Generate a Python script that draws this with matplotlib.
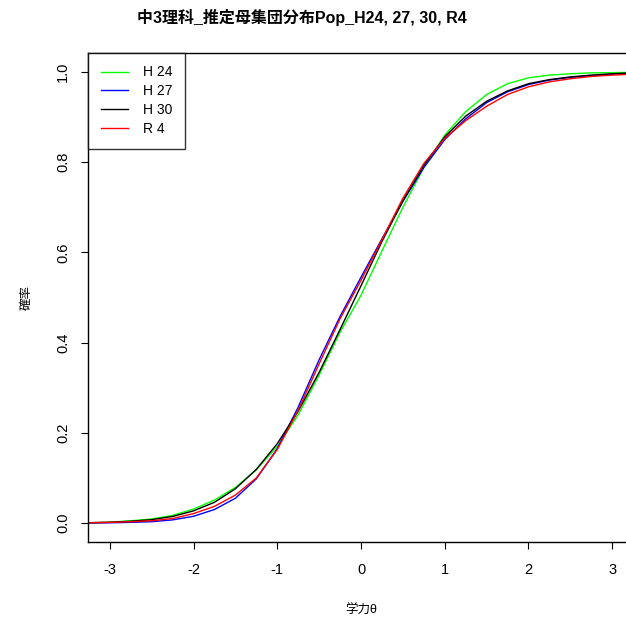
import matplotlib
matplotlib.use("Agg")
import matplotlib.pyplot as plt

# ability grid (theta) and estimated population CDFs
theta = [-3.25, -3.0, -2.75, -2.5, -2.25, -2.0, -1.75, -1.5, -1.25, -1.0,
         -0.75, -0.5, -0.25, 0.0, 0.25, 0.5, 0.75, 1.0, 1.25, 1.5,
         1.75, 2.0, 2.25, 2.5, 2.75, 3.0, 3.25]

h24 = [0.0005, 0.002, 0.005, 0.009, 0.017, 0.031, 0.051, 0.079, 0.118, 0.170,
       0.240, 0.328, 0.423, 0.505, 0.603, 0.700, 0.788, 0.860, 0.912, 0.950,
       0.974, 0.987, 0.993, 0.996, 0.998, 0.9985, 0.999]
h27 = [0.0003, 0.0006, 0.0015, 0.003, 0.007, 0.015, 0.030, 0.055, 0.098, 0.165,
       0.257, 0.362, 0.458, 0.545, 0.630, 0.713, 0.788, 0.850, 0.896, 0.932,
       0.956, 0.972, 0.982, 0.988, 0.992, 0.995, 0.997]
h30 = [0.0007, 0.0017, 0.004, 0.0075, 0.0146, 0.027, 0.046, 0.076, 0.119, 0.176,
       0.248, 0.334, 0.429, 0.526, 0.624, 0.714, 0.793, 0.856, 0.902, 0.935,
       0.958, 0.974, 0.983, 0.989, 0.993, 0.996, 0.998]
r4 = [0.0008, 0.0015, 0.003, 0.005, 0.010, 0.021, 0.037, 0.062, 0.100, 0.163,
      0.250, 0.353, 0.453, 0.538, 0.628, 0.720, 0.797, 0.853, 0.892, 0.924,
      0.950, 0.967, 0.978, 0.985, 0.990, 0.993, 0.995]

labels = ["H 24", "H 27", "H 30", "R 4"]
colors = ["#00ff00", "#0000ff", "#000000", "#ff0000"]

jp = ["Liberation Sans", "Noto Sans CJK JP"]
plt.rcParams["font.family"] = jp
plt.rcParams["axes.unicode_minus"] = False

fig = plt.figure(figsize=(6.26, 6.19), dpi=100)
ax = fig.add_axes([88/626, 77/619, 546/626, 489/619])

for y, lab, c in zip([h24, h27, h30, r4], labels, colors):
    ax.plot(theta, y, color=c, lw=1.0, label=lab)

ax.set_xlim(-3.26, 3.26)
ax.set_ylim(-0.042, 1.042)
ax.set_xticks([-3, -2, -1, 0, 1, 2, 3])
ax.set_yticks([0.0, 0.2, 0.4, 0.6, 0.8, 1.0])
ax.set_yticklabels(["0.0", "0.2", "0.4", "0.6", "0.8", "1.0"], rotation=90, va="center")
ax.tick_params(axis="both", direction="out", length=5, width=0.8, labelsize=10.5)
ax.tick_params(axis="x", pad=10)
ax.tick_params(axis="y", pad=8)
for s in ax.spines.values():
    s.set_linewidth(1.0)

ax.set_xlabel("学力θ", fontsize=9, labelpad=20)
ax.set_ylabel("確率", fontsize=9, labelpad=17)

leg = ax.legend(loc="upper left", fontsize=10, frameon=True, fancybox=False,
                borderaxespad=0, handlelength=2.0, handletextpad=1.05,
                labelspacing=0.35, borderpad=0.9)
leg.get_frame().set_edgecolor("black")
leg.get_frame().set_linewidth(1.0)

fig.text(302/626, 1 - 17/619, "中3理科_推定母集団分布Pop_H24, 27, 30, R4",
         ha="center", va="center", fontsize=11.5, fontweight="bold")

fig.savefig("out.png", dpi=100)
